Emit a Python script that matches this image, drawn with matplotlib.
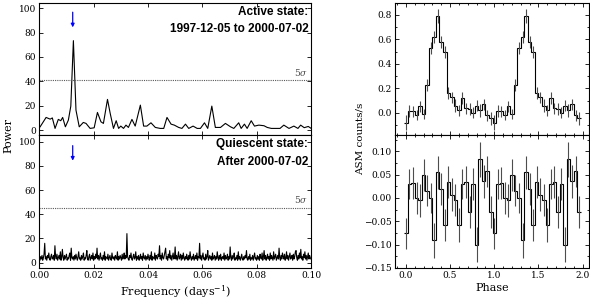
import numpy as np
import matplotlib
matplotlib.use('Agg')
import matplotlib.pyplot as plt
from matplotlib.ticker import MultipleLocator

plt.rcParams['font.family'] = ['DejaVu Serif']
plt.rcParams['mathtext.fontset'] = 'dejavuserif'

# 活跃期功率谱 (频率, 功率)
active_freq = [0.0003, 0.0025, 0.0040, 0.0048, 0.0058, 0.0070, 0.0079, 0.0086, 0.0096,
               0.0107, 0.0116, 0.01255, 0.0135, 0.0147, 0.0162, 0.0172, 0.0187, 0.0202,
               0.0214, 0.0227, 0.0236, 0.0251, 0.0261, 0.0273, 0.0283, 0.0292, 0.0300,
               0.0310, 0.0319, 0.0328, 0.0341, 0.0353, 0.0372, 0.0384, 0.0396, 0.0411,
               0.0427, 0.0445, 0.0458, 0.0470, 0.0485, 0.0497, 0.0513, 0.0525, 0.0538,
               0.0550, 0.0566, 0.0581, 0.0593, 0.0608, 0.0620, 0.0635, 0.0648, 0.0667,
               0.0685, 0.0704, 0.0716, 0.0734, 0.0743, 0.0755, 0.0765, 0.0780, 0.0792,
               0.0808, 0.0827, 0.0839, 0.0854, 0.0870, 0.0886, 0.0900, 0.0919, 0.0937,
               0.0952, 0.0962, 0.0975, 0.0990, 0.1000]
active_power = [2.7, 10.4, 9.0, 10.0, 1.4, 8.8, 7.7, 10.4, 2.7,
                8.2, 19.7, 73.4, 16.4, 2.7, 6.3, 5.5, 1.4, 1.9,
                14.5, 6.8, 5.5, 25.2, 13.7, 1.4, 7.7, 1.4, 3.3,
                1.4, 4.1, 2.2, 8.8, 3.3, 20.5, 3.3, 3.3, 6.0,
                2.2, 1.4, 1.4, 10.4, 4.9, 4.1, 2.2, 1.4, 4.9,
                1.4, 3.3, 1.4, 1.4, 6.0, 1.4, 19.7, 2.2, 2.2,
                5.5, 2.7, 1.4, 6.0, 1.4, 4.9, 1.4, 7.7, 3.3,
                4.1, 3.6, 2.2, 1.4, 1.4, 1.4, 4.1, 1.4, 3.3,
                1.4, 4.1, 2.0, 3.0, 1.5]

# 静止期功率谱 (频率步长 0.00025)
quiet_freq = np.arange(401) * 0.00025
quiet_power = [4, 2, 5, 3, 6, 2, 4, 7, 16, 3, 5, 2, 6, 4, 8, 3, 2, 5, 7, 3,
               4, 6, 2, 14, 5, 3, 7, 2, 4, 6, 3, 9, 2, 5, 11, 4, 2, 6, 3, 5,
               7, 2, 4, 3, 6, 8, 2, 12, 4, 3, 5, 2, 6, 3, 7, 4, 2, 5, 9, 3,
               4, 2, 6, 3, 5, 8, 2, 4, 3, 6, 10, 3, 2, 5, 7, 2, 4, 6, 3, 8,
               2, 5, 3, 7, 4, 12, 3, 6, 2, 5, 8, 3, 4, 2, 6, 3, 9, 2, 5, 4,
               3, 7, 2, 4, 6, 3, 2, 8, 4, 3, 5, 2, 6, 4, 3, 9, 2, 5, 3, 6,
               4, 2, 7, 3, 5, 8, 3, 6, 4, 24, 5, 3, 2, 6, 4, 8, 3, 2, 5, 7,
               3, 4, 9, 2, 5, 3, 6, 2, 4, 7, 3, 5, 2, 8, 4, 3, 6, 2, 5, 3,
               7, 4, 2, 6, 3, 9, 2, 5, 4, 3, 8, 2, 6, 4, 3, 7, 5, 14, 3, 6,
               2, 8, 4, 3, 6, 9, 12, 3, 5, 2, 7, 4, 10, 3, 6, 2, 5, 8, 3, 4,
               13, 3, 6, 2, 5, 9, 3, 4, 7, 2, 6, 3, 8, 4, 2, 5, 3, 7, 4, 2,
               6, 3, 9, 4, 2, 5, 3, 7, 2, 4, 6, 3, 8, 2, 5, 4, 16, 3, 6, 2,
               5, 8, 3, 4, 2, 7, 3, 5, 10, 2, 4, 6, 3, 5, 2, 8, 3, 4, 6, 2,
               5, 3, 9, 4, 2, 6, 3, 7, 2, 4, 5, 3, 8, 2, 6, 3, 4, 7, 2, 5,
               3, 13, 4, 2, 6, 3, 5, 8, 2, 4, 3, 6, 2, 9, 3, 5, 2, 4, 7, 3,
               2, 5, 3, 6, 4, 10, 3, 2, 5, 3, 7, 2, 4, 3, 6, 2, 5, 8, 3, 4,
               2, 6, 3, 5, 2, 7, 4, 3, 8, 2, 5, 10, 3, 6, 2, 4, 7, 3, 5, 2,
               8, 3, 6, 4, 2, 9, 3, 5, 7, 2, 4, 6, 3, 12, 4, 2, 6, 3, 8, 5,
               3, 7, 2, 4, 9, 3, 6, 2, 5, 8, 3, 4, 6, 2, 7, 3, 5, 9, 10, 4,
               2, 6, 3, 8, 4, 11, 3, 5, 2, 7, 4, 9, 3, 6, 2, 5, 8, 3, 6, 4,
               3]

period_freq = 0.0123
sigma5_active = 41
sigma5_quiet = 45.5

# 折叠光变曲线 (每周期 25 个相位格)
phase_bins = np.arange(25) * 0.04
active_lc = [-0.08, 0.014, 0.014, -0.02, 0.055, -0.01, 0.23, 0.53, 0.62, 0.79,
             0.58, 0.50, 0.165, 0.13, 0.06, 0.02, 0.12, 0.04, 0.03, 0.0,
             0.06, 0.02, 0.07, -0.02, -0.045]
active_err = [0.06, 0.05, 0.045, 0.04, 0.045, 0.04, 0.05, 0.05, 0.05, 0.055,
              0.05, 0.05, 0.05, 0.045, 0.05, 0.045, 0.05, 0.045, 0.05, 0.045,
              0.045, 0.05, 0.045, 0.045, 0.05]
quiet_lc = [-0.076, 0.030, 0.032, 0.0, -0.005, 0.049, 0.016, 0.0, -0.091, 0.055,
            0.02, -0.058, 0.035, 0.007, -0.005, -0.058, 0.03, 0.034, -0.03, 0.03,
            -0.10, 0.083, 0.036, 0.057, -0.03]
quiet_err = [0.034, 0.033, 0.035, 0.034, 0.036, 0.035, 0.034, 0.033, 0.038, 0.036,
             0.034, 0.035, 0.034, 0.035, 0.034, 0.036, 0.033, 0.035, 0.034, 0.035,
             0.037, 0.037, 0.035, 0.034, 0.035]


def style_axes(ax):
    ax.tick_params(direction='in', which='both', top=True, right=True,
                   labelsize=6.5, length=3, width=0.6, pad=2.5)
    ax.tick_params(which='minor', length=1.5)
    for s in ax.spines.values():
        s.set_linewidth(0.8)


fig = plt.figure(figsize=(5.9, 3.02), dpi=100)

# 左侧: 功率谱
ax1 = fig.add_axes([0.0666, 0.553, 0.4605, 0.438])
ax2 = fig.add_axes([0.0666, 0.1126, 0.4605, 0.4404])

panels = [
    (ax1, active_freq, active_power, sigma5_active, ['Active state:', '1997-12-05 to 2000-07-02'], (-4, 104.5)),
    (ax2, quiet_freq, quiet_power, sigma5_quiet, ['Quiescent state:', 'After 2000-07-02'], (-4.4, 105.5)),
]
for ax, f, p, s5, note, ylim in panels:
    ax.plot(f, p, color='k', lw=0.8)
    ax.axhline(s5, color='0.35', lw=0.8, ls=(0, (1, 1)))
    ax.text(0.099, s5 + 2, r'5$\sigma$', ha='right', va='bottom', fontsize=6.5, color='0.3')
    ax.annotate('', xy=(period_freq, 82), xytext=(period_freq, 99),
                arrowprops=dict(arrowstyle='-|>', color='blue', lw=0.9, mutation_scale=5))
    ax.text(0.99, 0.93, note[0], transform=ax.transAxes, ha='right', va='center',
            fontsize=8.5, fontweight='bold', family='Liberation Sans')
    ax.text(0.99, 0.80, note[1], transform=ax.transAxes, ha='right', va='center',
            fontsize=8.5, fontweight='bold', family='Liberation Sans')
    ax.set_xlim(0, 0.1)
    ax.set_ylim(*ylim)
    ax.xaxis.set_major_locator(MultipleLocator(0.02))
    ax.yaxis.set_major_locator(MultipleLocator(20))
    style_axes(ax)

ax1.set_xticklabels([])
ax2.xaxis.set_major_formatter(plt.FormatStrFormatter('%.2f'))
ax2.set_xlabel('Frequency (days$^{\\mathregular{-1}}$)', fontsize=8, labelpad=2)
fig.text(0.014, 0.55, 'Power', rotation=90, ha='center', va='center', fontsize=8)

# 右侧: 折叠光变曲线
ax3 = fig.add_axes([0.670, 0.553, 0.328, 0.438])
ax4 = fig.add_axes([0.670, 0.1126, 0.328, 0.4404])

phase = np.concatenate([phase_bins, phase_bins + 1])
edges = np.append(phase - 0.02, phase[-1] + 0.02)
for ax, lc, err, ylim in [(ax3, active_lc, active_err, (-0.18, 0.9)),
                          (ax4, quiet_lc, quiet_err, (-0.15, 0.135))]:
    vals = np.concatenate([lc, lc])
    errs = np.concatenate([err, err])
    ax.stairs(vals, edges, baseline=None, color='k', lw=0.8)
    ax.errorbar(phase, vals, yerr=errs, fmt='none', ecolor='0.3', elinewidth=0.8)
    ax.set_xlim(-0.12, 2.07)
    ax.set_ylim(*ylim)
    ax.xaxis.set_major_locator(MultipleLocator(0.5))
    ax.xaxis.set_minor_locator(MultipleLocator(0.1))
    style_axes(ax)

ax3.yaxis.set_major_locator(MultipleLocator(0.2))
ax3.yaxis.set_minor_locator(MultipleLocator(0.1))
ax3.set_xticklabels([])
ax4.yaxis.set_major_locator(MultipleLocator(0.05))
ax4.yaxis.set_minor_locator(MultipleLocator(0.025))
ax4.set_xlabel('Phase', fontsize=8, labelpad=2)
fig.text(0.61, 0.54, 'ASM counts/s', rotation=90, ha='center', va='center', fontsize=7.5)

fig.savefig('out.png', dpi=100)
